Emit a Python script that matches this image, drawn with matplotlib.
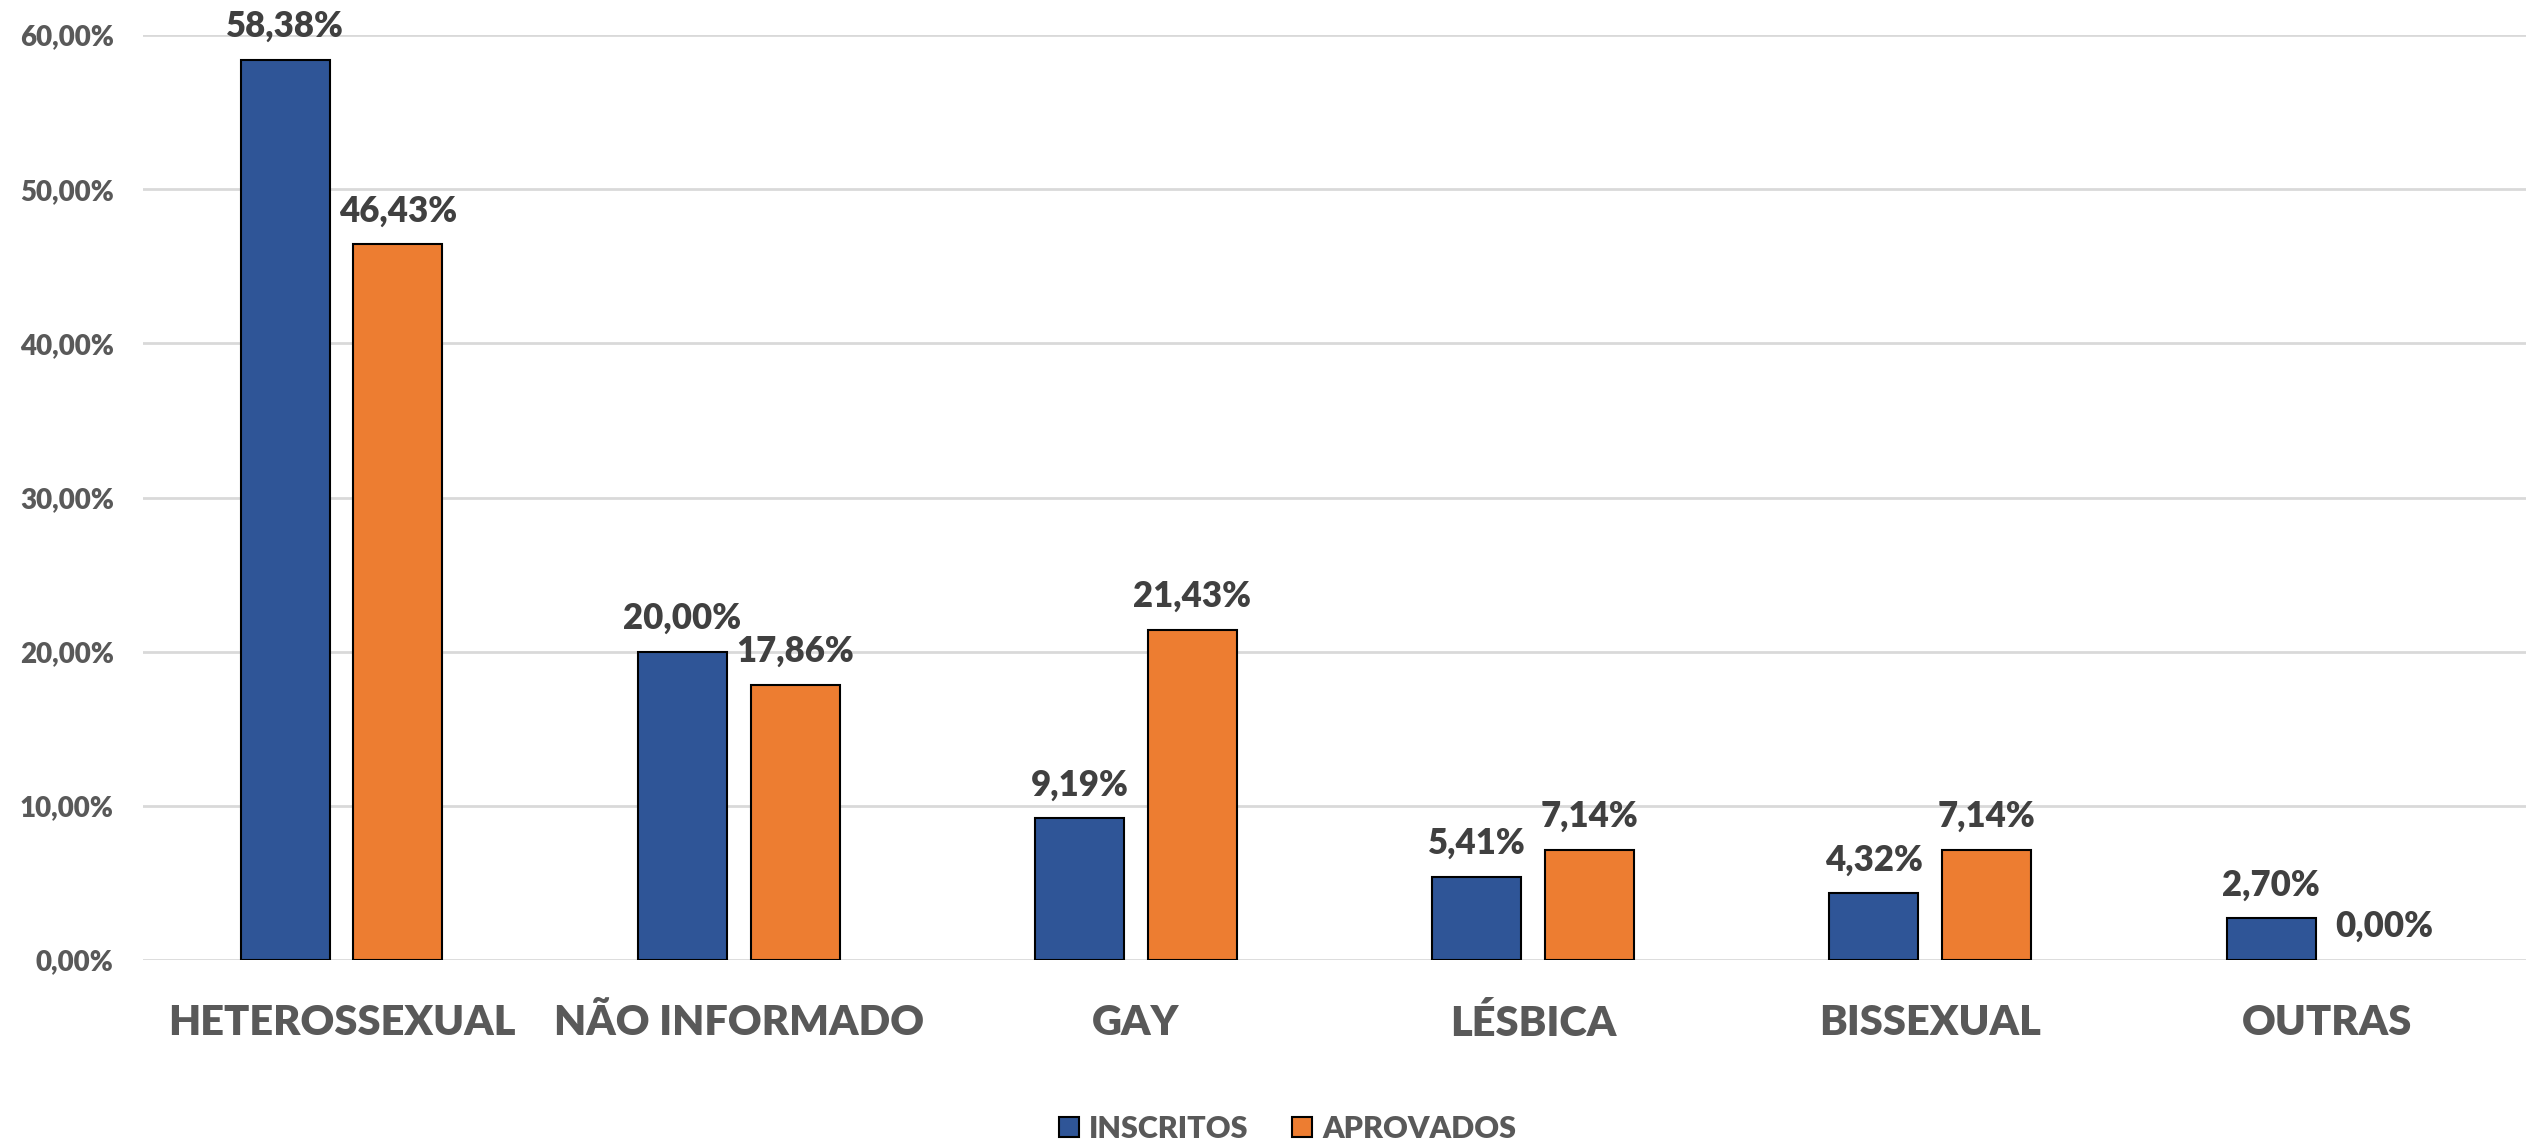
import matplotlib
matplotlib.use("Agg")
import matplotlib.pyplot as plt
from matplotlib.patches import Patch
import numpy as np

categories = ["HETEROSSEXUAL", "NÃO INFORMADO", "GAY", "LÉSBICA", "BISSEXUAL", "OUTRAS"]
inscritos = [58.38, 20.00, 9.19, 5.41, 4.32, 2.70]
aprovados = [46.43, 17.86, 21.43, 7.14, 7.14, 0.00]
series_names = ["INSCRITOS", "APROVADOS"]
yticks = [0, 10, 20, 30, 40, 50, 60]

BLUE = "#2F5597"
ORANGE = "#ED7D31"
TICK_C = "#595959"
LABEL_C = "#404040"
GRID_C = "#D9D9D9"
W = "heavy"

plt.rcParams['font.family'] = ['Lato', 'DejaVu Sans']

fig = plt.figure(figsize=(25.26, 11.45), dpi=100)
ax = fig.add_axes([143/2526, 1 - 960/1145, 1 - 143/2526, (960 - 35)/1145])

x = np.arange(len(categories))
w = 0.224
off = 0.142
b1 = ax.bar(x - off, inscritos, w, color=BLUE, edgecolor="black",
            linewidth=[1.5 if v > 0 else 0 for v in inscritos], zorder=3)
b2 = ax.bar(x + off, aprovados, w, color=ORANGE, edgecolor="black",
            linewidth=[1.5 if v > 0 else 0 for v in aprovados], zorder=3)

def fmt(v):
    return f"{v:.2f}".replace(".", ",") + "%"

for bars, vals in ((b1, inscritos), (b2, aprovados)):
    for rect, v in zip(bars, vals):
        ax.annotate(fmt(v), (rect.get_x() + rect.get_width() / 2, v),
                    xytext=(0, 16.5), textcoords="offset points",
                    ha="center", va="baseline", fontsize=25, fontweight=W,
                    color=LABEL_C, annotation_clip=False)

ax.set_xlim(-0.5, len(categories) - 0.5)
ax.set_ylim(0, 60)
ax.set_yticks(yticks)
ax.set_yticklabels([f"{t},00%" for t in yticks], fontsize=20, fontweight=W, color=TICK_C)
ax.set_xticks(x)
ax.set_xticklabels(categories, fontsize=30, fontweight=W, color=TICK_C)
ax.tick_params(axis="y", length=0, pad=21)
ax.tick_params(axis="x", length=0, pad=32)
ax.yaxis.grid(True, color=GRID_C, linewidth=2, zorder=0)
ax.set_axisbelow(True)
for s in ax.spines.values():
    s.set_visible(False)

handles = [Patch(facecolor=BLUE, edgecolor="black", linewidth=1.5),
           Patch(facecolor=ORANGE, edgecolor="black", linewidth=1.5)]
leg = fig.legend(handles, series_names, loc="center", bbox_to_anchor=(0.5097, 0.014),
                 ncol=2, frameon=False, handlelength=0.65, handleheight=0.65,
                 handletextpad=0.33, columnspacing=1.44, borderaxespad=0, borderpad=0,
                 prop={'family': ['Lato', 'DejaVu Sans'], 'weight': W, 'size': 22})
for t in leg.get_texts():
    t.set_color(TICK_C)

fig.savefig("out.png", dpi=100)
